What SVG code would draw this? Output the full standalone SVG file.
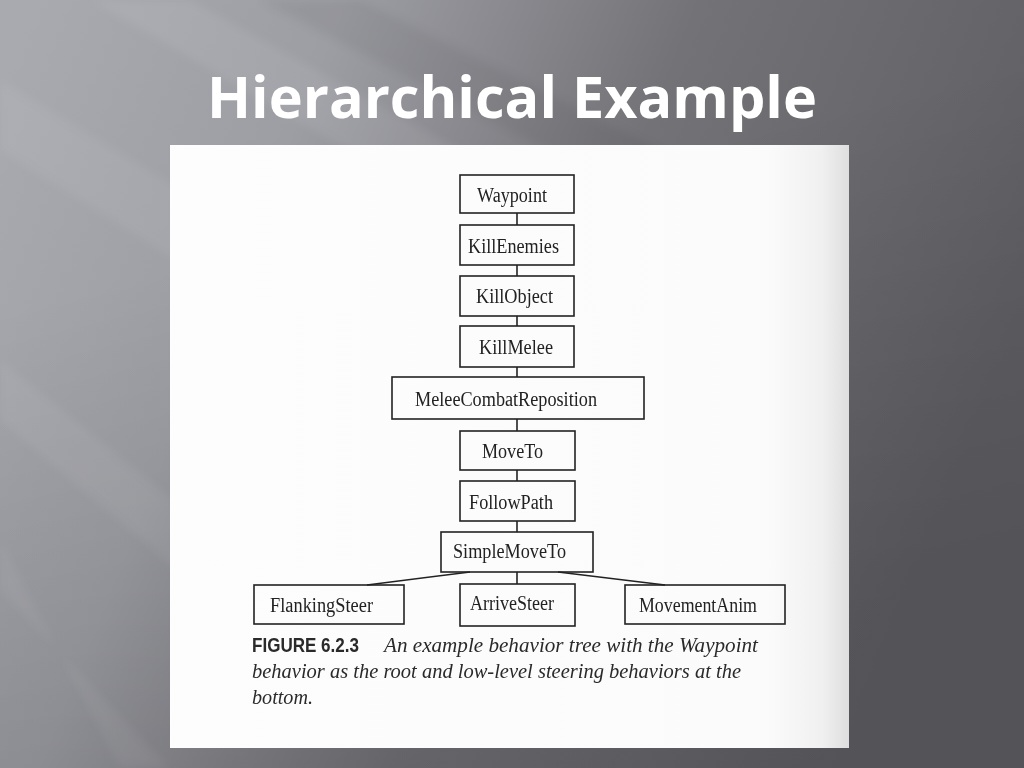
<svg xmlns="http://www.w3.org/2000/svg" width="1024" height="768" viewBox="0 0 1024 768">
<defs>
<linearGradient id="bg" x1="0" y1="0.1" x2="1" y2="0.4">
<stop offset="0" stop-color="#a9aab0"/>
<stop offset="0.28" stop-color="#9d9ea4"/>
<stop offset="0.6" stop-color="#737277"/>
<stop offset="1" stop-color="#5f5e63"/>
</linearGradient>
<linearGradient id="bgv" x1="0" y1="0.4" x2="0.2" y2="1">
<stop offset="0" stop-color="#000" stop-opacity="0"/>
<stop offset="1" stop-color="#000" stop-opacity="0.12"/>
</linearGradient>
<filter id="soft" filterUnits="userSpaceOnUse" x="0" y="0" width="1024" height="768">
<feGaussianBlur stdDeviation="5"/>
</filter>
<linearGradient id="pageShade" x1="0" y1="0" x2="1" y2="0">
<stop offset="0" stop-color="#fdfdfd"/>
<stop offset="0.88" stop-color="#fbfbfb"/>
<stop offset="0.96" stop-color="#f0f0f0"/>
<stop offset="1" stop-color="#dedede"/>
</linearGradient>
<style>
.box{fill:none;stroke:#222;stroke-width:1.6}
.lbl{font-family:"Liberation Serif","Times New Roman",serif;font-size:20px;fill:#222}
.edge{stroke:#222;stroke-width:1.6;fill:none}
.st{fill:#fff}
</style>
</defs>
<rect width="1024" height="768" fill="url(#bg)"/>
<rect width="1024" height="768" fill="url(#bgv)"/>
<g filter="url(#soft)">
<polygon class="st" points="90,0 190,0 640,250 520,250" opacity="0.07"/>
<polygon class="st" points="0,80 0,150 430,420 430,340" opacity="0.06"/>
<polygon class="st" points="0,360 0,420 260,640 260,570" opacity="0.06"/>
<polygon class="st" points="0,540 0,590 170,768 120,768" opacity="0.05"/>
<polygon points="260,0 360,0 820,230 700,230" fill="#000" opacity="0.05"/>
</g>
<text x="512" y="118" text-anchor="middle" font-family="'Open Sans','Noto Sans',sans-serif" font-weight="bold" font-size="58" fill="#fff" textLength="610" lengthAdjust="spacingAndGlyphs">Hierarchical Example</text>
<rect x="170" y="145" width="679" height="603" fill="url(#pageShade)"/>
<g id="connectors">
<line class="edge" x1="517" y1="213" x2="517" y2="225"/>
<line class="edge" x1="517" y1="265" x2="517" y2="276"/>
<line class="edge" x1="517" y1="316" x2="517" y2="326"/>
<line class="edge" x1="517" y1="367" x2="517" y2="377"/>
<line class="edge" x1="517" y1="419" x2="517" y2="431"/>
<line class="edge" x1="517" y1="470" x2="517" y2="481"/>
<line class="edge" x1="517" y1="521" x2="517" y2="532"/>
<line class="edge" x1="517" y1="572" x2="517" y2="584"/>
<polyline class="edge" points="470,572 367,585"/>
<polyline class="edge" points="558,572 665,585"/>
</g>
<g id="n-waypoint"><rect class="box" x="460" y="175" width="114" height="38"/><text class="lbl" x="477" y="202" textLength="70" lengthAdjust="spacingAndGlyphs">Waypoint</text></g>
<g id="n-killenemies"><rect class="box" x="460" y="225" width="114" height="40"/><text class="lbl" x="468" y="253" textLength="91" lengthAdjust="spacingAndGlyphs">KillEnemies</text></g>
<g id="n-killobject"><rect class="box" x="460" y="276" width="114" height="40"/><text class="lbl" x="476" y="303" textLength="77" lengthAdjust="spacingAndGlyphs">KillObject</text></g>
<g id="n-killmelee"><rect class="box" x="460" y="326" width="114" height="41"/><text class="lbl" x="479" y="354" textLength="74" lengthAdjust="spacingAndGlyphs">KillMelee</text></g>
<g id="n-meleecombat"><rect class="box" x="392" y="377" width="252" height="42"/><text class="lbl" x="415" y="406" textLength="182" lengthAdjust="spacingAndGlyphs">MeleeCombatReposition</text></g>
<g id="n-moveto"><rect class="box" x="460" y="431" width="115" height="39"/><text class="lbl" x="482" y="458" textLength="61" lengthAdjust="spacingAndGlyphs">MoveTo</text></g>
<g id="n-followpath"><rect class="box" x="460" y="481" width="115" height="40"/><text class="lbl" x="469" y="509" textLength="84" lengthAdjust="spacingAndGlyphs">FollowPath</text></g>
<g id="n-simplemoveto"><rect class="box" x="441" y="532" width="152" height="40"/><text class="lbl" x="453" y="558" textLength="113" lengthAdjust="spacingAndGlyphs">SimpleMoveTo</text></g>
<g id="n-flanking"><rect class="box" x="254" y="585" width="150" height="39"/><text class="lbl" x="270" y="612" textLength="103" lengthAdjust="spacingAndGlyphs">FlankingSteer</text></g>
<g id="n-arrive"><rect class="box" x="460" y="584" width="115" height="42"/><text class="lbl" x="470" y="610" textLength="84" lengthAdjust="spacingAndGlyphs">ArriveSteer</text></g>
<g id="n-movementanim"><rect class="box" x="625" y="585" width="160" height="39"/><text class="lbl" x="639" y="612" textLength="118" lengthAdjust="spacingAndGlyphs">MovementAnim</text></g>
<g id="caption" fill="#2a2a2a">
<text x="252" y="652" font-family="'Liberation Sans',Arial,sans-serif" font-weight="bold" font-size="19.5" textLength="107" lengthAdjust="spacingAndGlyphs">FIGURE 6.2.3</text>
<text x="384" y="652" font-family="'Liberation Serif','Times New Roman',serif" font-style="italic" font-size="21" textLength="374" lengthAdjust="spacingAndGlyphs">An example behavior tree with the Waypoint</text>
<text x="252" y="678" font-family="'Liberation Serif','Times New Roman',serif" font-style="italic" font-size="21" textLength="489" lengthAdjust="spacingAndGlyphs">behavior as the root and low-level steering behaviors at the</text>
<text x="252" y="704" font-family="'Liberation Serif','Times New Roman',serif" font-style="italic" font-size="21" textLength="61" lengthAdjust="spacingAndGlyphs">bottom.</text>
</g>
</svg>
